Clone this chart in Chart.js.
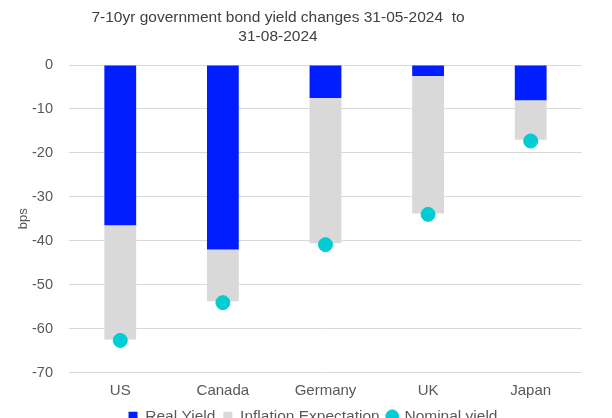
<!DOCTYPE html>
<html>
<head>
<meta charset="utf-8">
<script src="https://cdn.jsdelivr.net/npm/chart.js@4"></script>
<style>
  html, body { margin: 0; padding: 0; background: #fff; overflow: hidden; }
  #wrap { width: 612px; height: 418px; overflow: hidden; position: relative; }
  #box { width: 612px; height: 434px; }
</style>
</head>
<body>
<div id="wrap"><div id="box"><canvas id="chart"></canvas></div></div>
<script>
// data (bps)
const countries = ['US', 'Canada', 'Germany', 'UK', 'Japan'];
const realYield = [-36.5, -42.0, -7.5, -2.5, -8.0];
const inflationExp = [-26.0, -11.8, -33.1, -31.3, -9.0];
const nominalYield = [-62.7, -54.1, -40.9, -34.0, -17.3];
const titleLines = ['7-10yr government bond yield changes 31-05-2024  to', '31-08-2024'];

const FONT = 'Liberation Sans, Arial, sans-serif';
const TEXT = '#595959';

// title is centred a bit left of the canvas middle in the original
const titlePlugin = {
    id: 'offsetTitle',
    afterDraw(chart) {
        const ctx = chart.ctx;
        ctx.save();
        ctx.fillStyle = '#404040';
        ctx.font = '15.5px ' + FONT;
        ctx.textAlign = 'center';
        ctx.textBaseline = 'middle';
        titleLines.forEach((t, i) => ctx.fillText(t, 278, 18 + i * 19));
        ctx.restore();
    }
};

// the legend sits right of the canvas middle in the original
const legendShift = {
    id: 'legendShift',
    afterLayout(chart) {
        const lg = chart.legend;
        if (!lg) return;
        lg.left += 22;
        lg.right += 22;
    }
};

new Chart(document.getElementById('chart'), {
    type: 'bar',
    data: {
        labels: countries,
        datasets: [
            {
                label: 'Real Yield',
                data: realYield,
                backgroundColor: '#001EFF',
                stack: 'bars',
                pointStyle: 'rect',
                categoryPercentage: 1,
                barPercentage: 0.31,
                order: 1
            },
            {
                label: 'Inflation Expectation',
                data: inflationExp,
                backgroundColor: '#D9D9D9',
                stack: 'bars',
                pointStyle: 'rect',
                categoryPercentage: 1,
                barPercentage: 0.31,
                order: 1
            },
            {
                type: 'line',
                label: 'Nominal yield',
                data: nominalYield,
                showLine: false,
                stack: 'nominal',
                pointStyle: 'circle',
                pointRadius: 7,
                pointHoverRadius: 7,
                pointBackgroundColor: '#00CCD3',
                pointBorderColor: '#00CCD3',
                backgroundColor: '#00CCD3',
                borderColor: '#00CCD3',
                order: 0
            }
        ]
    },
    options: {
        responsive: true,
        maintainAspectRatio: false,
        animation: false,
        layout: { padding: { top: 65, right: 30, left: 0, bottom: 0 } },
        plugins: {
            title: { display: false },
            tooltip: { enabled: false },
            legend: {
                position: 'bottom',
                labels: {
                    usePointStyle: true,
                    boxWidth: 9,
                    boxHeight: 9,
                    padding: 8,
                    color: TEXT,
                    font: { family: FONT, size: 15.5 },
                    sort: (a, b) => a.datasetIndex - b.datasetIndex
                }
            }
        },
        scales: {
            x: {
                stacked: true,
                grid: { display: false },
                border: { display: false },
                ticks: { color: TEXT, font: { family: FONT, size: 15 }, padding: 1 }
            },
            y: {
                stacked: true,
                min: -70,
                max: 0,
                ticks: { stepSize: 10, color: TEXT, font: { family: FONT, size: 14.5 }, padding: 16 },
                grid: { color: '#D9D9D9', lineWidth: 1, drawTicks: false },
                border: { display: false },
                title: {
                    display: true, text: 'bps', color: TEXT,
                    font: { family: FONT, size: 13 },
                    padding: { top: 16, bottom: -15.6 }
                }
            }
        }
    },
    plugins: [titlePlugin, legendShift]
});
</script>
</body>
</html>
